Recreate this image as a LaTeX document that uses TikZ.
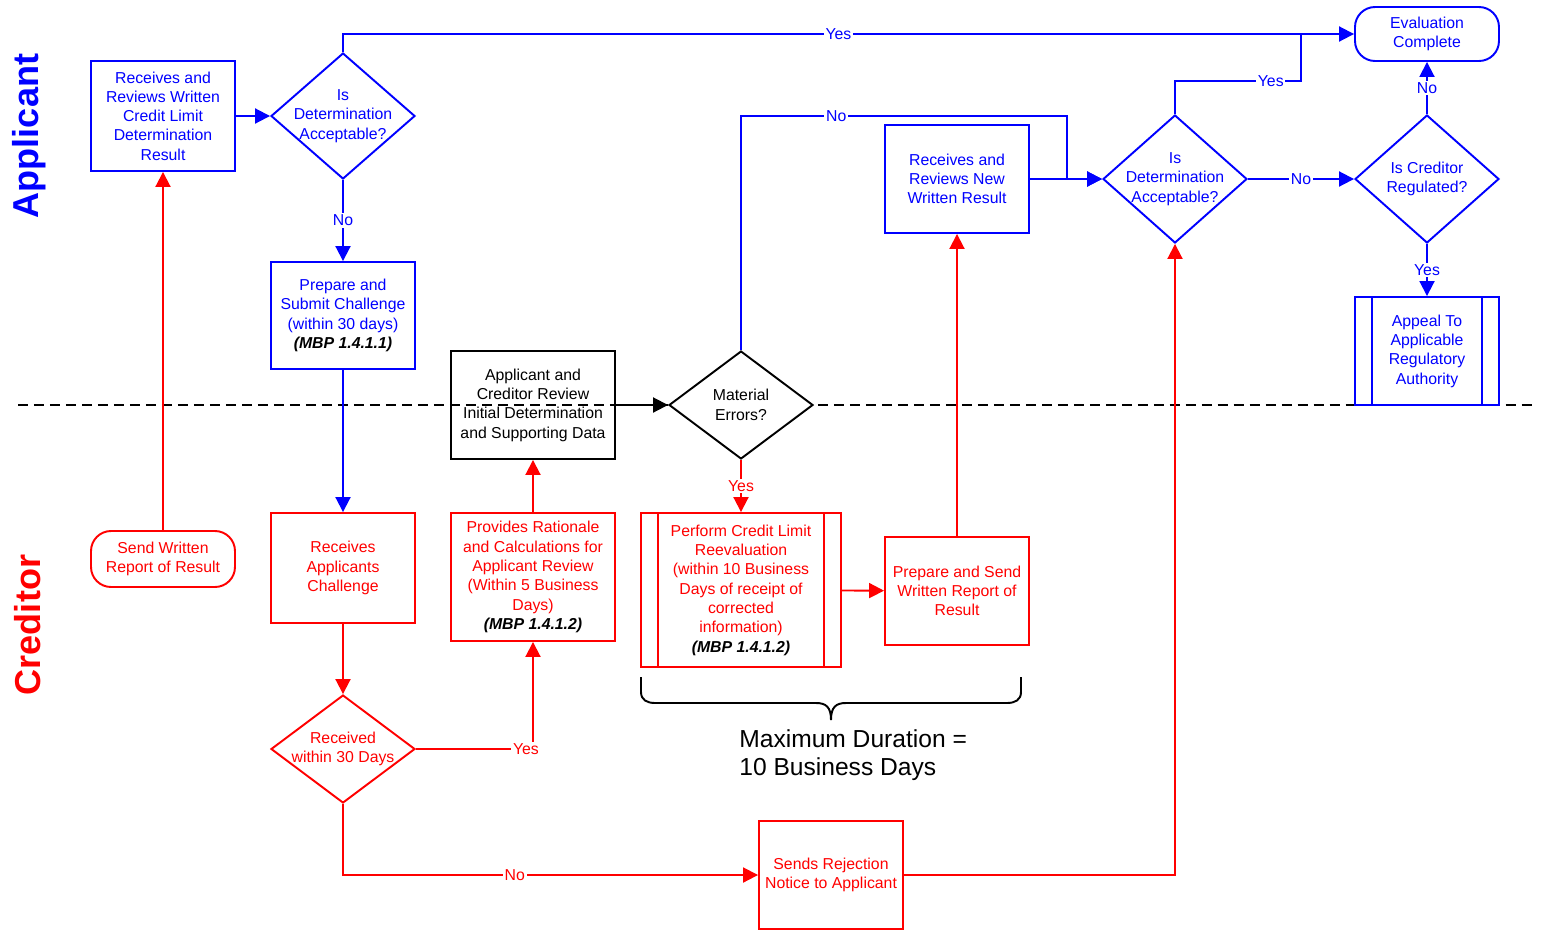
\documentclass[tikz,border=0pt]{standalone}
\usepackage{fontspec}
\setmainfont{Liberation Sans}
\usetikzlibrary{arrows.meta,shapes.geometric}

\definecolor{appblue}{RGB}{0,0,255}
\definecolor{credred}{RGB}{255,0,0}
\newcommand{\mbp}[1]{{\color{black}\bfseries\itshape #1}}

\tikzset{
  box/.style={draw, rectangle, line width=1.1pt, minimum width=2.88cm, minimum height=2.16cm, inner sep=0pt, align=center},
  decision/.style={draw, diamond, line width=1.1pt, minimum width=2.88cm, minimum height=2.16cm, inner sep=0pt},
  term/.style={box, rounded corners=0.4cm, minimum height=1.08cm},
  flow/.style={line width=1.1pt, -{Triangle[length=0.3cm,width=0.3cm]}},
  lbl/.style={fill=white, inner sep=1pt},
  lane/.style={line width=1.1pt, dash pattern=on 0.2cm off 0.12cm},
  lanename/.style={rotate=90, font=\fontsize{20.5}{24}\selectfont\bfseries}
}

\begin{document}
\begin{tikzpicture}[x=0.02cm, y=-0.02cm, font=\fontsize{9}{11}\selectfont]
\useasboundingbox (0,0) rectangle (1543,934);

% swim lanes
\draw[lane] (18,405) -- (1535,405);
\node[lanename, text=appblue] (applane) at (29,136) {Applicant};
\node[lanename, text=credred] (credlane) at (28,625) {Creditor};

% applicant
\node[box, appblue, minimum height=2.2cm] (recv) at (163,116) {Receives and\\Reviews Written\\Credit Limit\\Determination\\Result};
\node[decision, appblue, minimum height=2.52cm, label={[text=appblue, align=center]center:Is\\Determination\\Acceptable?}] (acc1) at (343,116) {};
\node[box, appblue, minimum height=2.14cm] (prep) at (343,315.5) {Prepare and\\Submit Challenge\\(within 30 days)\\\mbp{(MBP 1.4.1.1)}};
\node[box, minimum width=3.28cm] (review) at (533,405) {Applicant and\\Creditor Review\\Initial Determination\\and Supporting Data};
\node[decision, fill=white, label={[align=center]center:Material\\Errors?}] (errors) at (741,405) {};
\node[box, appblue] (newres) at (957,179) {Receives and\\Reviews New\\Written Result};
\node[decision, appblue, minimum height=2.56cm, label={[text=appblue, align=center]center:Is\\Determination\\Acceptable?}] (acc2) at (1175,179) {};
\node[decision, appblue, minimum height=2.56cm, label={[text=appblue, align=center]center:Is Creditor\\Regulated?}] (reg) at (1427,179) {};
\node[term, appblue] (done) at (1427,34) {Evaluation\\Complete};
\node[box, appblue] (appeal) at (1427,351) {Appeal To\\Applicable\\Regulatory\\Authority};
\draw[appblue, line width=1.1pt] ([xshift=0.36cm]appeal.north west) -- ([xshift=0.36cm]appeal.south west)
  ([xshift=-0.36cm]appeal.north east) -- ([xshift=-0.36cm]appeal.south east);

% creditor
\node[term, credred, minimum height=1.12cm] (sendrep) at (163,559) {Send Written\\Report of Result};
\node[box, credred, minimum height=2.2cm] (recvchal) at (343,568) {Receives\\Applicants\\Challenge};
\node[box, credred, minimum width=3.28cm, minimum height=2.56cm] (rat) at (533,577) {Provides Rationale\\and Calculations for\\Applicant Review\\(Within 5 Business\\Days)\\\mbp{(MBP 1.4.1.2)}};
\node[decision, credred, label={[text=credred, align=center]center:Received\\within 30 Days}] (w30) at (343,749) {};
\node[box, credred, minimum width=4cm, minimum height=3.08cm] (reeval) at (741,590) {Perform Credit Limit\\Reevaluation\\(within 10 Business\\Days of receipt of\\corrected\\information)\\\mbp{(MBP 1.4.1.2)}};
\draw[credred, line width=1.1pt] ([xshift=0.36cm]reeval.north west) -- ([xshift=0.36cm]reeval.south west)
  ([xshift=-0.36cm]reeval.north east) -- ([xshift=-0.36cm]reeval.south east);
\node[box, credred] (sendnew) at (957,591) {Prepare and Send\\Written Report of\\Result};
\node[box, credred] (reject) at (831,875) {Sends Rejection\\Notice to Applicant};

% brace
\draw[line width=1.1pt] (641,677) -- (641,692) .. controls (641,700) and (647,703) .. (655,703) -- (816,703) .. controls (826,703) and (831,707) .. (831,720);
\draw[line width=1.1pt] (1021,677) -- (1021,692) .. controls (1021,700) and (1015,703) .. (1007,703) -- (846,703) .. controls (836,703) and (831,707) .. (831,720);
\node[anchor=west, inner sep=0pt, align=left, font=\fontsize{14}{16}\selectfont] (maxdur) at (739,755) {Maximum Duration =\\10 Business Days};

% connectors
\coordinate (nobend) at (1067,116);
\coordinate (yesbend) at (1301,81);
\coordinate (yesjoin) at (1301,34);

\draw[flow, appblue] (recv) -- (acc1);
\draw[flow, appblue] (acc1.north) |- node[lbl, pos=0.745]{Yes} (done.west);
\draw[flow, appblue] (acc1) -- node[lbl]{No} (prep);
\draw[flow, appblue] (prep) -- (recvchal);
\draw[flow, credred] (recvchal) -- (w30);
\draw[flow, credred] (w30.east) -| node[lbl, pos=0.47]{Yes} (rat.south);
\draw[flow, credred] (w30.south) |- node[lbl, pos=0.707]{No} (reject.west);
\draw[flow, credred] (rat) -- (review);
\draw[flow] (review) -- (errors);
\draw[flow, credred] (errors) -- node[lbl]{Yes} (reeval);
\draw[flow, appblue] (errors.north) |- node[lbl, pos=0.646]{No} (nobend) |- (acc2.west);
\draw[flow, appblue] (newres) -- (acc2);
\draw[flow, credred] (reeval) -- (sendnew);
\draw[flow, credred] (sendnew) -- (newres);
\draw[flow, credred] (reject.east) -| (acc2.south);
\draw[flow, credred] (sendrep) -- (recv);
\draw[appblue, line width=1.1pt] (acc2.north) |- node[lbl, pos=0.88]{Yes} (yesbend) -- (yesjoin);
\draw[flow, appblue] (acc2) -- node[lbl]{No} (reg);
\draw[flow, appblue] (reg) -- node[lbl]{No} (done);
\draw[flow, appblue] (reg) -- node[lbl]{Yes} (appeal);
\end{tikzpicture}
\end{document}
